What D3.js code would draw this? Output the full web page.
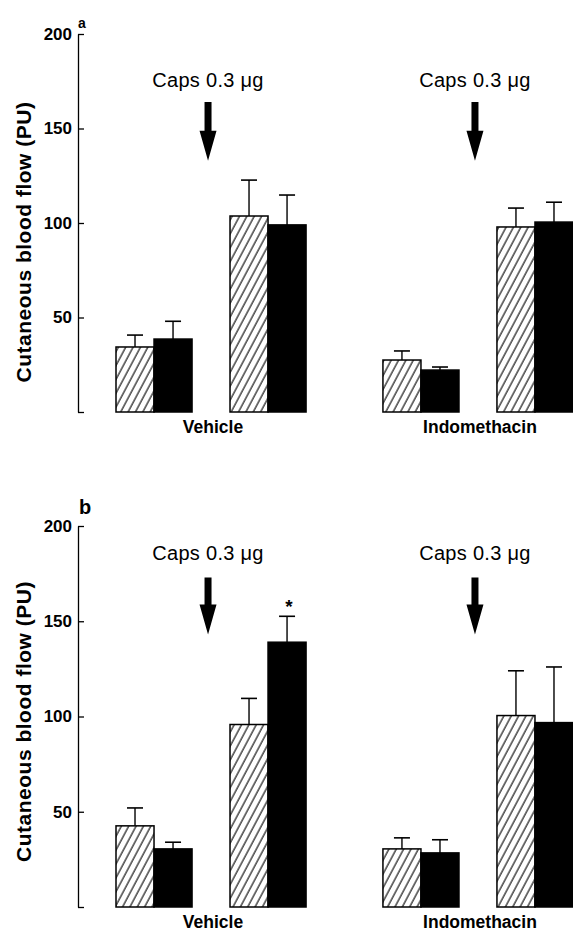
<!DOCTYPE html>
<html>
<head>
<meta charset="utf-8">
<script src="https://cdn.jsdelivr.net/npm/d3@7"></script>
<style>
  body { margin: 0; background: #fff; overflow: hidden; }
  svg { display: block; }
  text { font-family: "Liberation Sans", Arial, Helvetica, sans-serif; fill: #000; }
  .axis path, .axis line { stroke: #000; stroke-width: 1.3; }
  .axis text { font-size: 17px; font-weight: bold; font-family: "Liberation Sans", Arial, sans-serif; }
</style>
</head>
<body>
<div id="chart"></div>
<script>
// ------------------------------------------------------------------ data
const conditions = ["Vehicle", "Indomethacin"];
const phases = ["Basal", "Capsaicin"];
const seriesNames = ["hatched", "solid"];
const panelLabels = ["a", "b"];
const yTicks = [0, 50, 100, 150, 200];

// order: Vehicle basal, Vehicle caps, Indo basal, Indo caps
const hatchedA = [34.4, 103.7, 27.5, 97.9];
const hatchedSemA = [6.3, 19.0, 4.8, 10.0];
const solidA = [38.6, 99.0, 22.2, 100.5];
const solidSemA = [9.4, 15.8, 1.6, 10.5];

const hatchedB = [42.6, 95.8, 30.5, 100.5];
const hatchedSemB = [9.4, 13.7, 5.8, 23.5];
const solidB = [30.5, 139.0, 28.4, 96.8];
const solidSemB = [3.5, 13.6, 6.9, 29.2];

const starredB = [false, true, false, false]; // solid bars with *

// arrow annotation (in PU units): caption, arrow top, arrow tip
const captionText = "Caps 0.3 \u03bcg";
const captionAt = [172, 182];
const arrowFrom = [164, 173];
const arrowTo = [133, 143];

const yTitle = "Cutaneous blood flow (PU)";

// ------------------------------------------------------------------ layout
const width = 573, height = 933;
const panels = [
  { top: 34, bottom: 412, hatched: hatchedA, hSem: hatchedSemA, solid: solidA, sSem: solidSemA, stars: [false, false, false, false] },
  { top: 526, bottom: 907, hatched: hatchedB, hSem: hatchedSemB, solid: solidB, sSem: solidSemB, stars: starredB }
];
const axisX = 78;

const svg = d3.select("#chart").append("svg")
  .attr("width", width)
  .attr("height", height);

// hatch pattern "/"
svg.append("defs").append("pattern")
  .attr("id", "hatch")
  .attr("patternUnits", "userSpaceOnUse")
  .attr("width", 6.5)
  .attr("height", 10)
  .attr("patternTransform", "rotate(28)")
  .append("line")
  .attr("x1", 1).attr("y1", 0).attr("x2", 1).attr("y2", 10)
  .attr("stroke", "#000").attr("stroke-width", 1.1);

// x scales: condition -> phase -> series
const x0 = d3.scaleBand().domain(conditions).range([116, 573]).paddingInner(0.288);
const x1 = d3.scaleBand().domain(phases).range([0, x0.bandwidth()]).paddingInner(0.333);
const x2 = d3.scaleBand().domain(seriesNames).range([0, x1.bandwidth()]);

panels.forEach((p, pi) => {
  const y = d3.scaleLinear().domain([0, 200]).range([p.bottom, p.top]);
  const g = svg.append("g");

  // rows for bars
  let rows = [];
  conditions.forEach((c, ci) => {
    phases.forEach((ph, phi) => {
      const k = ci * 2 + phi;
      rows.push({ c: c, ph: ph, s: "hatched", v: p.hatched[k], sem: p.hSem[k], star: false });
      rows.push({ c: c, ph: ph, s: "solid", v: p.solid[k], sem: p.sSem[k], star: p.stars[k] });
    });
  });
  const bx = d => x0(d.c) + x1(d.ph) + x2(d.s);

  // error bars (up only)
  const eb = g.selectAll(".err").data(rows).enter().append("g");
  eb.append("line")
    .attr("x1", d => bx(d) + x2.bandwidth() / 2)
    .attr("x2", d => bx(d) + x2.bandwidth() / 2)
    .attr("y1", d => y(d.v))
    .attr("y2", d => y(d.v + d.sem))
    .attr("stroke", "#000").attr("stroke-width", 1.4);
  eb.append("line")
    .attr("x1", d => bx(d) + x2.bandwidth() / 2 - 8)
    .attr("x2", d => bx(d) + x2.bandwidth() / 2 + 8)
    .attr("y1", d => y(d.v + d.sem))
    .attr("y2", d => y(d.v + d.sem))
    .attr("stroke", "#000").attr("stroke-width", 1.6);

  // bars
  g.selectAll(".bar").data(rows).enter().append("rect")
    .attr("x", d => bx(d))
    .attr("y", d => y(d.v))
    .attr("width", x2.bandwidth())
    .attr("height", d => y(0) - y(d.v))
    .attr("fill", d => d.s === "hatched" ? "url(#hatch)" : "#000")
    .attr("stroke", "#000")
    .attr("stroke-width", 1.5);

  // significance star
  g.selectAll(".star").data(rows.filter(d => d.star)).enter().append("text")
    .attr("x", d => bx(d) + x2.bandwidth() / 2 + 2)
    .attr("y", d => y(d.v + d.sem) - 3)
    .attr("text-anchor", "middle")
    .style("font-size", "19px").style("font-weight", "bold")
    .text("*");

  // y axis
  g.append("g")
    .attr("class", "axis")
    .attr("transform", "translate(" + axisX + ",0)")
    .call(d3.axisLeft(y).tickValues(yTicks).tickSizeInner(-6).tickSizeOuter(0).tickPadding(6)
      .tickFormat(d => d === 0 ? "" : d));

  // y title
  g.append("text")
    .attr("transform", "translate(31," + ((p.top + p.bottom) / 2 + (pi === 0 ? 19 : 5)) + ") rotate(-90)")
    .attr("text-anchor", "middle")
    .style("font-size", "21px").style("font-weight", "bold")
    .style("letter-spacing", "0.5px")
    .text(yTitle);

  // panel letter
  g.append("text")
    .attr("x", axisX + (pi === 0 ? 0 : 1))
    .attr("y", pi === 0 ? y(200) - 6 : y(200) - 12)
    .style("font-size", pi === 0 ? "14px" : "20px").style("font-weight", "bold")
    .text(panelLabels[pi]);

  // x labels
  g.selectAll(".xl").data(conditions).enter().append("text")
    .attr("x", c => x0(c) + x0.bandwidth() / 2 + 2)
    .attr("y", p.bottom + 21)
    .attr("text-anchor", "middle")
    .style("font-size", "17.5px").style("font-weight", "bold")
    .text(c => c);

  // capsaicin arrows
  conditions.forEach(c => {
    const cx = x0(c) + x0.bandwidth() / 2 - 3;
    const yTop = y(arrowFrom[pi]), yTip = y(arrowTo[pi]);
    const headH = 30;
    g.append("path")
      .attr("d", "M" + (cx - 3.5) + "," + yTop + "H" + (cx + 3.5) + "V" + (yTip - headH) +
        "H" + (cx + 8.5) + "L" + cx + "," + yTip + "L" + (cx - 8.5) + "," + (yTip - headH) +
        "H" + (cx - 3.5) + "Z")
      .attr("fill", "#000");
    g.append("text")
      .attr("x", cx)
      .attr("y", y(captionAt[pi]))
      .attr("text-anchor", "middle")
      .style("font-size", "20px")
      .style("letter-spacing", "0.3px")
      .text(captionText);
  });
});
</script>
</body>
</html>
